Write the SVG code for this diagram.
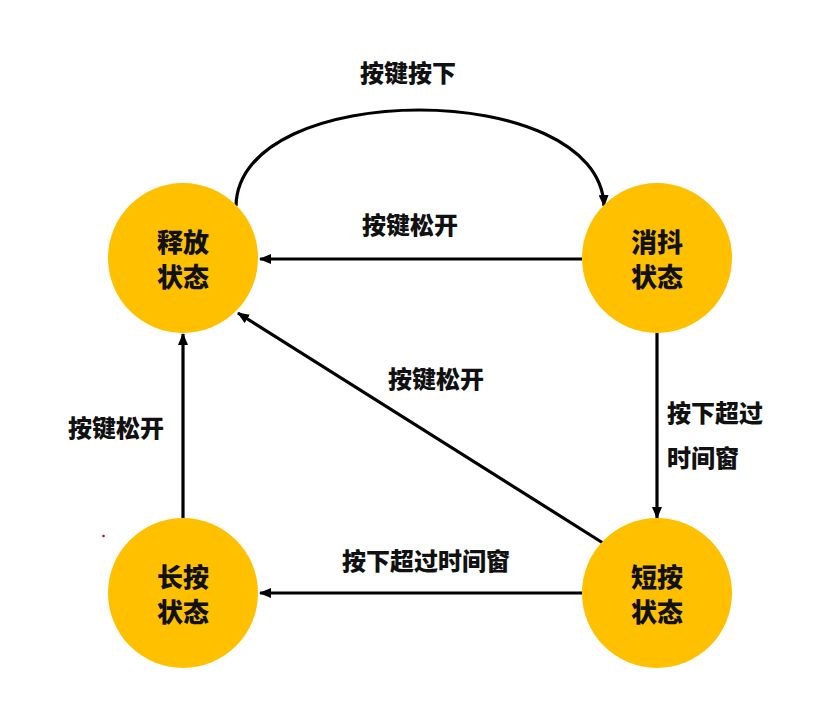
<svg xmlns="http://www.w3.org/2000/svg" width="827" height="712" viewBox="0 0 827 712">
<defs>
<style>
.node{fill:#FFC000;}
.nt{font-family:"Noto Sans CJK SC","Noto Sans",sans-serif;font-weight:900;font-size:26px;fill:#111;text-anchor:middle;}
.lbl{font-family:"Noto Sans CJK SC","Noto Sans",sans-serif;font-weight:900;font-size:24px;fill:#111;}
.edge{fill:none;stroke:#000;stroke-width:3.2;}
</style>
<marker id="arr" viewBox="0 0 12 10" refX="11" refY="5" markerWidth="12" markerHeight="10" markerUnits="userSpaceOnUse" orient="auto">
<path d="M0,0 L12,5 L0,10 Z" fill="#000"/>
</marker>
</defs>
<rect width="827" height="712" fill="#fff"/>
<g id="connectors">
<path class="edge" d="M236,206 C238,78 600,78 604,206" marker-end="url(#arr)"/>
<line class="edge" x1="582" y1="259" x2="260" y2="259" marker-end="url(#arr)"/>
<line class="edge" x1="657" y1="333" x2="657" y2="518" marker-end="url(#arr)"/>
<line class="edge" x1="603" y1="543" x2="238" y2="313" marker-end="url(#arr)"/>
<line class="edge" x1="183" y1="518" x2="183" y2="334" marker-end="url(#arr)"/>
<line class="edge" x1="582" y1="593" x2="260" y2="593" marker-end="url(#arr)"/>
</g>
<g id="labels">
<text class="lbl" x="408" y="82" text-anchor="middle">按键按下</text>
<text class="lbl" x="410" y="234" text-anchor="middle">按键松开</text>
<text class="lbl" x="667" y="422">按下超过</text>
<text class="lbl" x="667" y="467">时间窗</text>
<text class="lbl" x="436" y="388" text-anchor="middle">按键松开</text>
<text class="lbl" x="116" y="437" text-anchor="middle">按键松开</text>
<text class="lbl" x="426" y="570" text-anchor="middle">按下超过时间窗</text>
</g>
<g id="node-release">
<circle class="node" cx="183" cy="258" r="75"/>
<text class="nt" x="183" y="252">释放</text>
<text class="nt" x="183" y="287">状态</text>
</g>
<g id="node-debounce">
<circle class="node" cx="657" cy="258" r="75"/>
<text class="nt" x="657" y="252">消抖</text>
<text class="nt" x="657" y="287">状态</text>
</g>
<g id="node-long">
<circle class="node" cx="183" cy="593" r="75"/>
<text class="nt" x="183" y="587">长按</text>
<text class="nt" x="183" y="622">状态</text>
</g>
<g id="node-short">
<circle class="node" cx="657" cy="593" r="75"/>
<text class="nt" x="657" y="587">短按</text>
<text class="nt" x="657" y="622">状态</text>
</g>
<circle cx="103.5" cy="536" r="1.3" fill="#8b1a2a"/>
</svg>
